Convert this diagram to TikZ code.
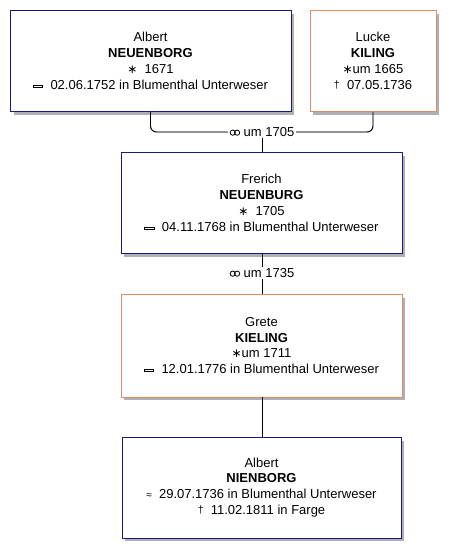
\documentclass[tikz,border=0pt]{standalone}
\usepackage{fontspec}
\setmainfont{Liberation Sans}
\newfontfamily\symf{DejaVu Sans}

\definecolor{bluebd}{RGB}{25,25,130}
\definecolor{orangebd}{RGB}{225,140,105}
\definecolor{shadowc}{RGB}{175,175,180}

\newcommand\birthsym{{\symf\fontsize{12}{12}\selectfont ∗}}
\newcommand\burialsym{\raisebox{2.5pt}{\setlength{\fboxsep}{0pt}\setlength{\fboxrule}{0.9pt}\fbox{\rule{0pt}{1.4pt}\rule{8.5pt}{0pt}}}}
\newcommand\deathsym{\raisebox{1pt}{\fontsize{10.5}{10}\selectfont †}}
\newcommand\baptsym{{\fontsize{10}{10}\selectfont ≈}}
\newcommand\marrsym{\tikz[x=1pt,y=1pt,baseline=0pt,line width=0.8pt]{\draw (2.8,3.8) circle (2.6); \draw (7.2,3.8) circle (2.6);}}

\tikzset{
  person/.style={draw, line width=0.9pt, fill=white, align=center,
    font=\fontsize{13}{15.8}\selectfont, inner sep=0pt,
    minimum width=281pt, minimum height=101pt},
  male/.style={person, draw=bluebd},
  female/.style={person, draw=orangebd},
  boxshadow/.style={fill=shadowc, draw=none},
  link/.style={line width=0.9pt, draw=black},
  linkshadow/.style={line width=0.9pt, draw=shadowc},
  marr/.style={fill=white, inner sep=1.5pt, font=\fontsize{13}{14}\selectfont}
}

\begin{document}
\begin{tikzpicture}[x=1pt,y=-1pt]
\useasboundingbox (0,0) rectangle (455,558);

% box shadows
\fill[boxshadow] (13.5,14) rectangle (294,114.5);
\fill[boxshadow] (313,14) rectangle (439,115);
\fill[boxshadow] (124,155.5) rectangle (405,257);
\fill[boxshadow] (124,297.5) rectangle (405,400);
\fill[boxshadow] (125,440.5) rectangle (404,541);

\coordinate (j1) at (150.5,132);
\coordinate (j2) at (373,132);
\coordinate (c1) at (262,132);
\coordinate (c2) at (262,273);

\node[male] (b1) at (150.5,61) {Albert\\\textbf{NEUENBORG}\\\birthsym\ \ 1671\\\burialsym\ \ 02.06.1752 in Blumenthal Unterweser};
\node[female, minimum width=126pt] (b2) at (373,61) {Lucke\\\textbf{KILING}\\\birthsym um 1665\\\deathsym\ \ 07.05.1736};
\node[male] (b3) at (261.5,203) {Frerich\\\textbf{NEUENBURG}\\\birthsym\ \ 1705\\\burialsym\ \ 04.11.1768 in Blumenthal Unterweser};
\node[female, minimum height=103pt] (b4) at (261.5,345.5) {Grete\\\textbf{KIELING}\\\birthsym um 1711\\\burialsym\ \ 12.01.1776 in Blumenthal Unterweser};
\node[male, minimum width=279pt] (b5) at (261.5,487.5) {Albert\\\textbf{NIENBORG}\\\baptsym\ \ 29.07.1736 in Blumenthal Unterweser\\\deathsym\ \ 11.02.1811 in Farge};

\begin{scope}[shift={(1.8,1.8)}]
  \draw[linkshadow, rounded corners=6pt] (b1.south) -- (j1) -- (j2) -- (b2.south);
  \draw[linkshadow] (c1) -- (c1 |- b3.north);
  \draw[linkshadow] (c2 |- b3.south) -- (c2 |- b4.north);
  \draw[linkshadow] (c2 |- b4.south) -- (c2 |- b5.north);
\end{scope}
\draw[link, rounded corners=6pt] (b1.south) -- (j1) -- (j2) -- (b2.south);
\draw[link] (c1) -- (c1 |- b3.north);
\draw[link] (c2 |- b3.south) -- (c2 |- b4.north);
\draw[link] (c2 |- b4.south) -- (c2 |- b5.north);

\node[marr] (m1) at (c1) {\marrsym\ um 1705};
\node[marr] (m2) at (c2) {\marrsym\ um 1735};
\end{tikzpicture}
\end{document}
